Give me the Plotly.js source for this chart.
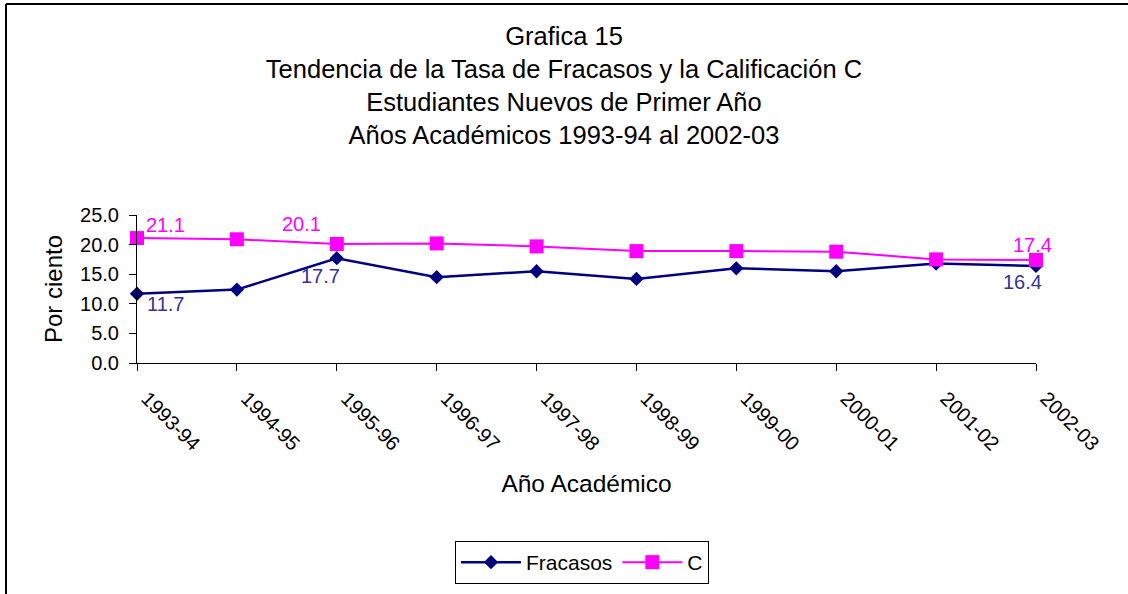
<!DOCTYPE html>
<html>
<head>
<meta charset="utf-8">
<script src="https://cdn.plot.ly/plotly-3.0.1.min.js"></script>
<style>
  html, body { margin: 0; padding: 0; background: #ffffff; }
  #chart { width: 1128px; height: 594px; }
</style>
</head>
<body>
<div id="chart"></div>
<script>
// ---- data ----
const years = ["1993-94","1994-95","1995-96","1996-97","1997-98","1998-99","1999-00","2000-01","2001-02","2002-03"];
const fracasos = [11.7, 12.4, 17.7, 14.5, 15.5, 14.2, 16.0, 15.5, 16.8, 16.4];
const califC = [21.1, 20.9, 20.1, 20.2, 19.7, 18.9, 18.9, 18.8, 17.5, 17.4];
const labeledIdx = [0, 2, 9];
const yTicks = [0, 5, 10, 15, 20, 25];

const FONT = "Arial, 'Liberation Sans', Helvetica, sans-serif";
const navy = "#000080";
const magenta = "#FF00FF";
const labelBlue = "#333399";

const M = {l: 137, r: 92, t: 215, b: 231};
const W = 1128, H = 594;

const traces = [
  {
    x: years, y: fracasos, name: "Fracasos", type: "scatter", mode: "lines+markers",
    line: {color: navy, width: 2.5},
    marker: {symbol: "diamond", size: 11, color: navy},
    cliponaxis: false
  },
  {
    x: years, y: califC, name: "C", type: "scatter", mode: "lines+markers",
    line: {color: magenta, width: 2},
    marker: {symbol: "square", size: 14, color: magenta},
    cliponaxis: false
  }
];

// label offsets (pixels) per labelled point
const cShift = {0: [28, 13], 2: [-35, 20], 9: [-4, 15]};
const fShift = {0: [28, -10], 2: [-16, -18], 9: [-14, -16]};
const annotations = [];
labeledIdx.forEach(i => {
  annotations.push({
    x: years[i], y: califC[i], xref: "x", yref: "y",
    text: califC[i].toFixed(1), showarrow: false,
    xshift: cShift[i][0], yshift: cShift[i][1],
    font: {family: FONT, size: 20, color: magenta}
  });
  annotations.push({
    x: years[i], y: fracasos[i], xref: "x", yref: "y",
    text: fracasos[i].toFixed(1), showarrow: false,
    xshift: fShift[i][0], yshift: fShift[i][1],
    font: {family: FONT, size: 20, color: labelBlue}
  });
});

// chart frame (left and top edges), converted from pixels to paper coords
const pw = W - M.l - M.r, ph = H - M.t - M.b;
const px = v => (v - M.l) / pw;
const py = v => (H - M.b - v) / ph;
const shapes = [
  {type: "line", xref: "paper", yref: "paper", x0: px(6), x1: px(1140), y0: py(4), y1: py(4), line: {color: "#000", width: 2}},
  {type: "line", xref: "paper", yref: "paper", x0: px(6), x1: px(6), y0: py(4), y1: py(600), line: {color: "#000", width: 2}}
];

const layout = {
  width: W, height: H,
  margin: M,
  paper_bgcolor: "#ffffff",
  plot_bgcolor: "#ffffff",
  font: {family: FONT, color: "#000", size: 20},
  title: {
    text: "Grafica 15<br>Tendencia de la Tasa de Fracasos y la Calificación C<br>Estudiantes Nuevos de Primer Año<br>Años Académicos 1993-94 al 2002-03",
    font: {family: FONT, size: 25.5, color: "#000"},
    x: 0.5, xref: "container", xanchor: "center",
    y: 1 - 45 / H, yref: "container", yanchor: "top"
  },
  xaxis: {
    type: "category",
    range: [0, years.length - 1],
    showgrid: false, zeroline: false,
    showline: true, linecolor: "#000", linewidth: 1,
    ticks: "outside", ticklen: 7, tickcolor: "#000", tickwidth: 1,
    tickangle: 45,
    ticklabelstandoff: 8,
    ticklabelshift: 10,
    tickfont: {family: FONT, size: 20, color: "#000"},
    title: {text: "Año Académico", font: {family: FONT, size: 24.5, color: "#000"}, standoff: 21},
    fixedrange: true
  },
  yaxis: {
    range: [0, 25],
    tickvals: yTicks,
    tickformat: ".1f",
    showgrid: false, zeroline: false,
    showline: true, linecolor: "#000", linewidth: 1,
    ticks: "outside", ticklen: 7, tickcolor: "#000", tickwidth: 1,
    ticklabelstandoff: 6,
    tickfont: {family: FONT, size: 20, color: "#000"},
    title: {text: "Por ciento", font: {family: FONT, size: 24, color: "#000"}, standoff: 10},
    fixedrange: true
  },
  showlegend: true,
  legend: {
    orientation: "h",
    x: 582 / W, xref: "container", xanchor: "center",
    y: 1 - 541 / H, yref: "container", yanchor: "top",
    bordercolor: "#000", borderwidth: 1,
    bgcolor: "#ffffff",
    itemwidth: 60,
    font: {family: FONT, size: 21, color: "#000"}
  },
  annotations: annotations,
  shapes: shapes
};

Plotly.newPlot("chart", traces, layout, {displayModeBar: false, staticPlot: true});
</script>
</body>
</html>
